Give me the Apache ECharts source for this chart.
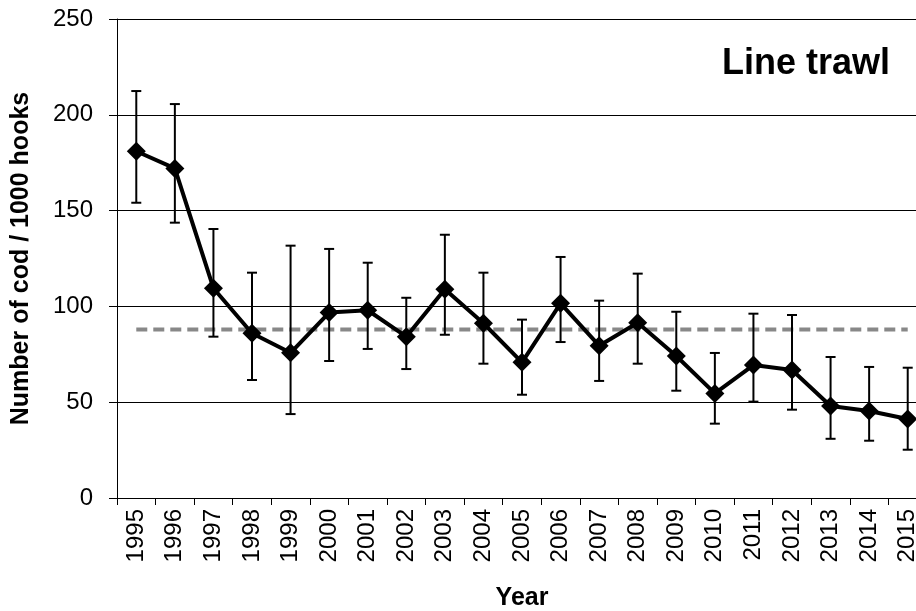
<!DOCTYPE html>
<html>
<head>
<meta charset="utf-8">
<script src="https://cdn.jsdelivr.net/npm/echarts@6/dist/echarts.min.js"></script>
<style>
html,body{margin:0;padding:0;background:#fff;}
#chart{width:916px;height:611px;}
</style>
</head>
<body>
<div id="chart"></div>
<script>
const years = ['1995','1996','1997','1998','1999','2000','2001','2002','2003','2004','2005','2006','2007','2008','2009','2010','2011','2012','2013','2014','2015'];
const codPerHooks = [181, 172, 109.5, 86, 75.8, 96.8, 98, 84.2, 108.9, 91.2, 70.8, 101.6, 79.5, 91.5, 74.1, 54.6, 69.4, 66.8, 48, 45.4, 41.2];
const errUpper = [212.4, 205.6, 140.4, 117.6, 131.7, 130, 122.8, 104.5, 137.4, 117.6, 93.1, 125.8, 103, 117.1, 97.2, 75.7, 96.2, 95.5, 73.6, 68.4, 68];
const errLower = [154.1, 143.7, 84.2, 61.6, 43.8, 71.5, 77.8, 67.3, 85.2, 70.1, 53.9, 81.4, 61.1, 70.1, 56, 38.8, 50.3, 46.1, 30.9, 29.9, 25.2];
const meanValue = 88;
const yTicks = [0, 50, 100, 150, 200, 250];

const meanLine = years.map(() => meanValue);
const errData = years.map((y, i) => [i, errLower[i], errUpper[i]]);

const chart = echarts.init(document.getElementById('chart'), null, {renderer: 'canvas'});
const FONT = 'Liberation Sans, Arial, sans-serif';
chart.setOption({
  animation: false,
  backgroundColor: '#fff',
  title: {
    text: 'Line trawl',
    left: 717, top: 41,
    textStyle: {fontFamily: FONT, fontWeight: 'bold', fontSize: 36, color: '#000'}
  },
  grid: {left: 117, top: 19, width: 810, height: 479, containLabel: false, outerBoundsMode: 'none'},
  xAxis: {
    type: 'category',
    data: years,
    boundaryGap: true,
    name: 'Year',
    nameLocation: 'middle',
    nameGap: 88,
    nameTextStyle: {fontFamily: FONT, fontWeight: 'bold', fontSize: 25, color: '#000'},
    axisLine: {lineStyle: {color: '#000', width: 1}},
    axisTick: {show: true, alignWithLabel: false, length: 7, lineStyle: {color: '#000'}},
    axisLabel: {rotate: 90, fontFamily: FONT, fontSize: 24, color: '#000', margin: 11, interval: 0},
    splitLine: {show: false}
  },
  yAxis: {
    type: 'value',
    min: yTicks[0], max: yTicks[yTicks.length - 1], interval: 50,
    name: 'Number of cod / 1000 hooks',
    nameLocation: 'middle',
    nameGap: 83,
    nameTextStyle: {fontFamily: FONT, fontWeight: 'bold', fontSize: 25, color: '#000'},
    axisLine: {show: true, lineStyle: {color: '#000', width: 1}},
    axisTick: {show: true, length: 8, inside: false, lineStyle: {color: '#000'}},
    axisLabel: {fontFamily: FONT, fontSize: 24, color: '#000', margin: 24},
    splitLine: {show: true, lineStyle: {color: '#000', width: 1}}
  },
  series: [
    {
      type: 'line',
      data: meanLine,
      symbol: 'none',
      lineStyle: {color: '#888', width: 4, type: [11, 6]},
      z: 2
    },
    {
      type: 'custom',
      data: errData,
      renderItem: function (params, api) {
        const x = api.value(0);
        const lo = api.coord([x, api.value(1)]);
        const hi = api.coord([x, api.value(2)]);
        const cap = 5;
        const style = {stroke: '#000', lineWidth: 2};
        return {
          type: 'group',
          children: [
            {type: 'line', shape: {x1: lo[0], y1: lo[1], x2: hi[0], y2: hi[1]}, style: style},
            {type: 'line', shape: {x1: lo[0] - cap, y1: lo[1], x2: lo[0] + cap, y2: lo[1]}, style: style},
            {type: 'line', shape: {x1: hi[0] - cap, y1: hi[1], x2: hi[0] + cap, y2: hi[1]}, style: style}
          ]
        };
      },
      z: 3
    },
    {
      type: 'line',
      data: codPerHooks,
      symbol: 'diamond',
      symbolSize: 19,
      itemStyle: {color: '#000'},
      lineStyle: {color: '#000', width: 4},
      z: 4
    }
  ]
});
</script>
</body>
</html>
